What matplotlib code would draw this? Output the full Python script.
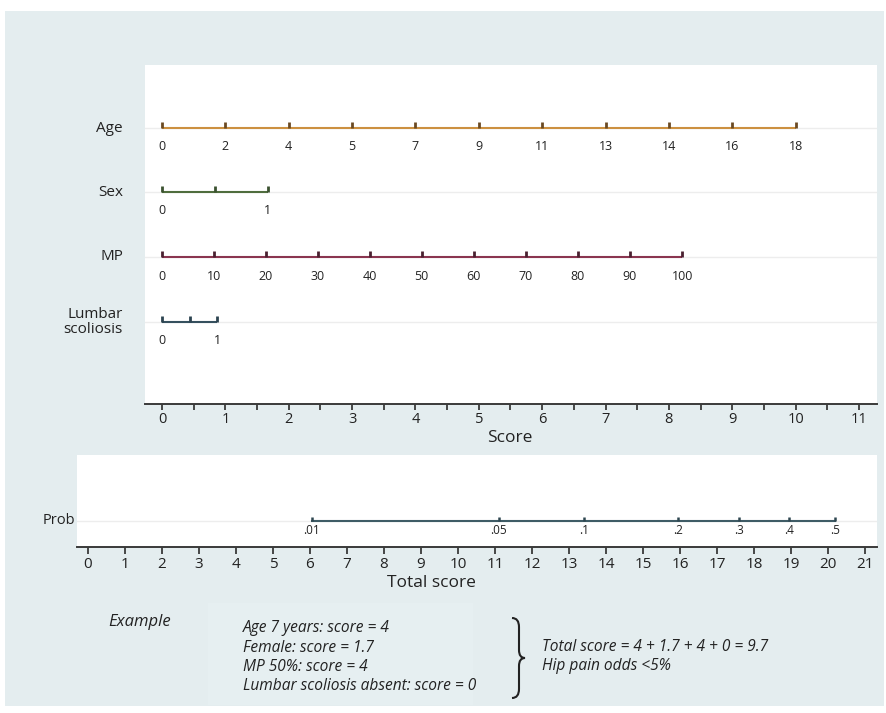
import matplotlib
matplotlib.use('Agg')
import matplotlib.pyplot as plt
from matplotlib.patches import Rectangle, PathPatch
from matplotlib.path import Path

plt.rcParams['font.family'] = ['Open Sans', 'DejaVu Sans']

# nomogram scales: label shown -> position on the points scale
age_labels = ['0', '2', '4', '5', '7', '9', '11', '13', '14', '16', '18']
age_points = [0, 1, 2, 3, 4, 5, 6, 7, 8, 9, 10]
sex_labels = ['0', '', '1']
sex_points = [0, 0.835, 1.67]
mp_labels = ['0', '10', '20', '30', '40', '50', '60', '70', '80', '90', '100']
mp_points = [0, 0.82, 1.64, 2.46, 3.28, 4.10, 4.92, 5.74, 6.56, 7.38, 8.21]
lumbar_labels = ['0', '', '1']
lumbar_points = [0, 0.435, 0.87]

score_ticks = list(range(0, 12))
total_ticks = list(range(0, 22))

# probability scale: label -> total score
prob_labels = ['.01', '.05', '.1', '.2', '.3', '.4', '.5']
prob_points = [6.05, 11.1, 13.4, 15.95, 17.6, 18.95, 20.2]

example_lines = ['Age 7 years: score = 4', 'Female: score = 1.7',
                 'MP 50%: score = 4', 'Lumbar scoliosis absent: score = 0']
result_lines = ['Total score = 4 + 1.7 + 4 + 0 = 9.7', 'Hip pain odds <5%']

W, H = 887, 713
fig = plt.figure(figsize=(W / 100, H / 100), dpi=100)
fig.patch.set_facecolor('white')

# background axes in pixel coordinates
bg = fig.add_axes([0, 0, 1, 1], zorder=0)
bg.set_xlim(0, W)
bg.set_ylim(H, 0)
bg.axis('off')
bg.add_patch(Rectangle((5, 11), 879, 695, color='#e4edef', lw=0))
bg.add_patch(Rectangle((208, 603), 265, 102, color='#e6eff1', lw=0))


def panel(x0, y0, x1, y1):
    return fig.add_axes([x0 / W, 1 - y1 / H, (x1 - x0) / W, (y1 - y0) / H], zorder=2)


line_dark = '#3a3a3a'
txt = '#222222'

# ---- upper panel: points per predictor ----
ax = panel(145, 65, 877, 404)
ax.set_xlim((145 - 162) / 63.36, (877 - 162) / 63.36)
ax.set_ylim(0, 339)
for s in ['top', 'right', 'left']:
    ax.spines[s].set_visible(False)
ax.spines['bottom'].set_color(line_dark)
ax.spines['bottom'].set_linewidth(1.4)
ax.set_yticks([])
ax.set_xticks(score_ticks)
ax.set_xticks([t + 0.5 for t in score_ticks[:-1]], minor=True)
ax.tick_params(axis='x', which='both', direction='out', length=4, width=1.3,
               color=line_dark, labelsize=10.5, pad=2, labelcolor=txt)

rows = [
    ('Age', age_points, age_labels, 276, '#cc9040', '#6b4a22'),
    ('Sex', sex_points, sex_labels, 212, '#4f6d3e', '#3b5230'),
    ('MP', mp_points, mp_labels, 147, '#8a3550', '#4a2030'),
    ('Lumbar\nscoliosis', lumbar_points, lumbar_labels, 82, '#35505e', '#2c4350'),
]
for name, pts, labs, y, col, tcol in rows:
    ax.axhline(y, color='#ededed', lw=1, zorder=1)
    ax.plot([pts[0], pts[-1]], [y, y], color=col, lw=1.5, zorder=3, solid_capstyle='butt')
    ax.vlines(pts, y, y + 6, color=tcol, lw=2, zorder=4)
    for p, lab in zip(pts, labs):
        ax.text(p, y - 19, lab, ha='center', va='center', fontsize=9, color=txt)
    fig.text(123 / W, 1 - (404 - y) / H, name, ha='right', va='center',
             fontsize=11, color=txt, multialignment='right', linespacing=1.0)

bg.text(510, 438, 'Score', ha='center', va='center', fontsize=12.5, color=txt)

# ---- lower panel: total score -> probability ----
ax2 = panel(77, 455, 877, 547)
ax2.set_xlim((77 - 88) / 37.0, (877 - 88) / 37.0)
ax2.set_ylim(0, 92)
for s in ['top', 'right', 'left']:
    ax2.spines[s].set_visible(False)
ax2.spines['bottom'].set_color(line_dark)
ax2.spines['bottom'].set_linewidth(1.4)
ax2.set_yticks([])
ax2.set_xticks(total_ticks)
ax2.tick_params(axis='x', direction='out', length=5, width=1.3, color=line_dark,
                labelsize=11, pad=2, labelcolor=txt)
ax2.axhline(26, color='#ededed', lw=1, zorder=1)
ax2.plot([prob_points[0], prob_points[-1]], [26, 26], color='#3f5c66', lw=1.5, zorder=3)
ax2.vlines(prob_points, 26, 30, color='#2e4650', lw=1.8, zorder=4)
for p, lab in zip(prob_points, prob_labels):
    ax2.text(p, 16, lab, ha='center', va='center', fontsize=8.5, color=txt)
fig.text(75 / W, 1 - 521 / H, 'Prob', ha='right', va='center', fontsize=10.5, color=txt)
bg.text(431, 583, 'Total score', ha='center', va='center', fontsize=12.5, color=txt)

# ---- worked example ----
bg.text(108, 622, 'Example', ha='left', va='center', fontsize=12, style='italic', color=txt)
for i, t in enumerate(example_lines):
    bg.text(243, 628 + i * 19.5, t, ha='left', va='center', fontsize=11.2,
            style='italic', color=txt)
for i, t in enumerate(result_lines):
    bg.text(542, 647 + i * 19.5, t, ha='left', va='center', fontsize=11.2,
            style='italic', color=txt)

# curly brace
bx, top, mid, bot = 512, 618, 658, 698
verts = [(bx, top), (bx + 7, top), (bx + 7, top + 9), (bx + 7, top + 9),
         (bx + 7, mid - 8), (bx + 7, mid), (bx + 13, mid),
         (bx + 7, mid), (bx + 7, mid + 8), (bx + 7, mid + 9),
         (bx + 7, bot - 9), (bx + 7, bot), (bx, bot)]
codes = [Path.MOVETO, Path.CURVE3, Path.CURVE3, Path.LINETO,
         Path.LINETO, Path.CURVE3, Path.CURVE3,
         Path.CURVE3, Path.CURVE3, Path.LINETO,
         Path.LINETO, Path.CURVE3, Path.CURVE3]
bg.add_patch(PathPatch(Path(verts, codes), fill=False, lw=1.5, edgecolor=txt))

fig.savefig('out.png', dpi=100, facecolor=fig.get_facecolor())
